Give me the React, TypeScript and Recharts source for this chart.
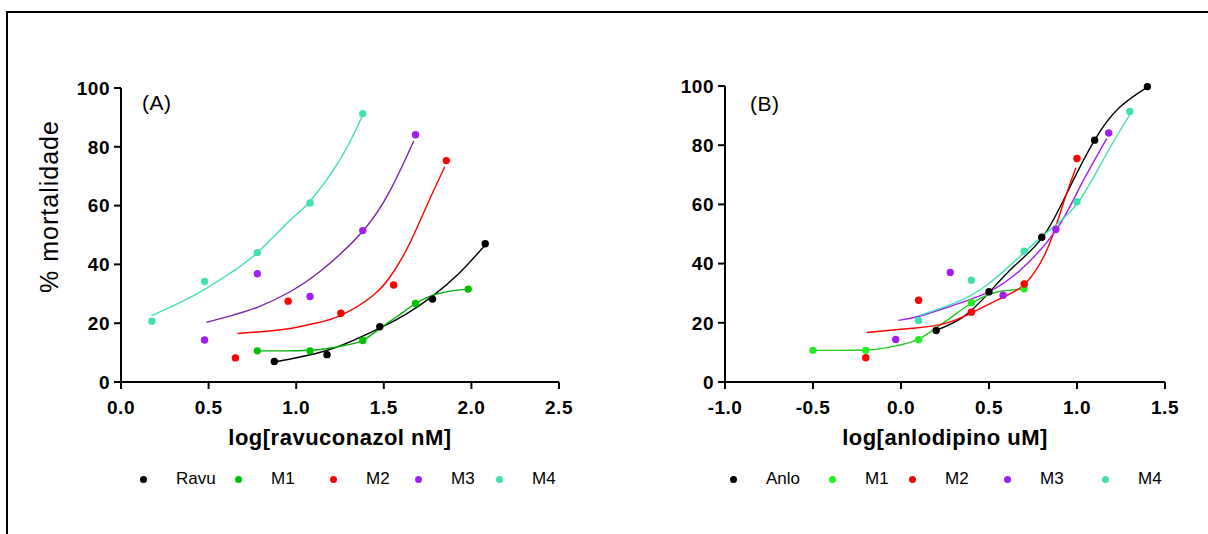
import React from "react";
import { ComposedChart, Scatter, Line, XAxis, YAxis, Legend } from "recharts";

const FONT = '"Liberation Sans", Arial, Helvetica, sans-serif';

// ---- panel A: ravuconazol (log nM) ----
const ravuX = [0.875, 1.176, 1.477, 1.778, 2.079];
const ravuY = [7, 9.3, 18.8, 28.2, 47];
const ravuFitX = [0.875, 1.022, 1.174, 1.32, 1.474, 1.63, 1.778, 1.93, 2.078];
const ravuFitY = [6.8, 8.5, 10.7, 14, 18.2, 23.2, 29.2, 37, 46.5];

const a1X = [0.778, 1.079, 1.38, 1.681, 1.982];
const a1Y = [10.6, 10.6, 14.1, 26.7, 31.6];
const a1FitX = [0.778, 0.93, 1.079, 1.18, 1.28, 1.378, 1.46, 1.535, 1.61, 1.68, 1.781, 1.88, 1.98];
const a1FitY = [10.6, 10.6, 10.8, 11.4, 12.5, 14.1, 17.4, 20.6, 23.7, 26.7, 29.5, 30.9, 31.6];

const a2X = [0.653, 0.954, 1.255, 1.556, 1.857];
const a2Y = [8.2, 27.5, 23.4, 33, 75.3];
const a2FitX = [0.665, 0.815, 0.965, 1.11, 1.255, 1.44, 1.556, 1.649, 1.744, 1.848];
const a2FitY = [16.5, 17.2, 18.2, 20, 22.7, 29.5, 37.5, 47.3, 59.8, 73.2];

const a3X = [0.477, 0.778, 1.079, 1.38, 1.681];
const a3Y = [14.3, 36.8, 29.1, 51.5, 84.1];
const a3FitX = [0.487, 0.63, 0.778, 0.965, 1.155, 1.38, 1.535, 1.671];
const a3FitY = [20.3, 22.6, 25.4, 30.7, 38.5, 51.3, 65, 82];

const a4X = [0.176, 0.477, 0.778, 1.079, 1.38];
const a4Y = [20.7, 34.2, 44, 60.9, 91.3];
const a4FitX = [0.176, 0.33, 0.478, 0.63, 0.778, 0.965, 1.079, 1.25, 1.38];
const a4FitY = [22.6, 26.8, 31.5, 37.3, 44, 55, 61.5, 75.6, 90.8];

// ---- panel B: anlodipino (log uM) ----
const anloX = [0.2, 0.5, 0.8, 1.1, 1.4];
const anloY = [17.4, 30.5, 48.9, 81.7, 99.8];
const anloFitX = [0.197, 0.354, 0.5, 0.639, 0.803, 0.941, 1.1, 1.244, 1.404];
const anloFitY = [17.4, 22, 30.2, 38.9, 48.8, 63.6, 81.7, 92.9, 99.8];

const b1X = [-0.5, -0.2, 0.1, 0.4, 0.7];
const b1Y = [10.7, 10.7, 14.3, 26.8, 31.5];
const b1FitX = [-0.5, -0.35, -0.2, -0.063, 0.1, 0.26, 0.4, 0.544, 0.7];
const b1FitY = [10.7, 10.7, 10.8, 11.8, 14.5, 20.8, 26.6, 30.4, 31.4];

const b2X = [-0.2, 0.1, 0.4, 0.7, 1.0];
const b2Y = [8.2, 27.6, 23.6, 33.1, 75.5];
const b2FitX = [-0.195, 0, 0.222, 0.4, 0.581, 0.705, 0.828, 0.922, 0.994];
const b2FitY = [16.7, 17.8, 19.4, 23.3, 28.7, 33.2, 44.5, 60.3, 72.4];

const b3X = [-0.03, 0.28, 0.58, 0.88, 1.18];
const b3Y = [14.4, 37, 29.3, 51.5, 84.1];
const b3FitX = [-0.015, 0.108, 0.297, 0.487, 0.676, 0.881, 1.017, 1.169];
const b3FitY = [20.8, 22.3, 25.9, 30.1, 37.7, 51.3, 65.9, 82.2];

const b4X = [0.1, 0.4, 0.7, 1.0, 1.3];
const b4Y = [20.8, 34.4, 44.2, 60.9, 91.4];
const b4FitX = [0.108, 0.297, 0.487, 0.705, 0.866, 1.01, 1.169, 1.305];
const b4FitY = [22.5, 26.5, 32.7, 44, 52.4, 61, 77.2, 90.8];

const yTicks = [0, 20, 40, 60, 80, 100];
const xTicksA = [0, 0.5, 1, 1.5, 2, 2.5];
const xTicksB = [-1, -0.5, 0, 0.5, 1, 1.5];
const namesA = ["Ravu", "M1", "M2", "M3", "M4"];
const namesB = ["Anlo", "M1", "M2", "M3", "M4"];

const pts = (xs: number[], ys: number[]) => xs.map((x, i) => ({ x, y: ys[i] }));

// curve: "natural" for the rising fits, "monotone" for the flat-topped sigmoid ones
const seriesA = [
  { name: "Ravu", color: "#000000", line: "#000000", curve: "natural", points: pts(ravuX, ravuY), fit: pts(ravuFitX, ravuFitY) },
  { name: "M1", color: "#00C000", line: "#00B000", curve: "monotone", points: pts(a1X, a1Y), fit: pts(a1FitX, a1FitY) },
  { name: "M2", color: "#FF0000", line: "#FF0000", curve: "natural", points: pts(a2X, a2Y), fit: pts(a2FitX, a2FitY) },
  { name: "M3", color: "#A020F0", line: "#7A22A8", curve: "natural", points: pts(a3X, a3Y), fit: pts(a3FitX, a3FitY) },
  { name: "M4", color: "#40E0B0", line: "#40E0B0", curve: "natural", points: pts(a4X, a4Y), fit: pts(a4FitX, a4FitY) },
];

const seriesB = [
  { name: "Anlo", color: "#000000", line: "#000000", curve: "natural", points: pts(anloX, anloY), fit: pts(anloFitX, anloFitY) },
  { name: "M1", color: "#22EE22", line: "#22CC22", curve: "monotone", points: pts(b1X, b1Y), fit: pts(b1FitX, b1FitY) },
  { name: "M2", color: "#FF0000", line: "#FF0000", curve: "natural", points: pts(b2X, b2Y), fit: pts(b2FitX, b2FitY) },
  { name: "M3", color: "#A020F0", line: "#A020F0", curve: "natural", points: pts(b3X, b3Y), fit: pts(b3FitX, b3FitY) },
  { name: "M4", color: "#40E0B0", line: "#40E0B0", curve: "natural", points: pts(b4X, b4Y), fit: pts(b4FitX, b4FitY) },
];

// legend dot centres, relative to each panel's left edge
const legendPosA = [143, 238, 333, 418, 499];
const legendPosB = [129, 228, 308, 403, 501];

function LegendRow({ names, colors, xs }: { names: string[]; colors: string[]; xs: number[] }) {
  return (
    <div style={{ position: "relative", width: "100%", height: 20, fontFamily: FONT, fontSize: 17, color: "#000" }}>
      {names.map((n, i) => (
        <React.Fragment key={n}>
          <span
            style={{
              position: "absolute",
              left: xs[i] - 3.5,
              top: 6.5,
              width: 7,
              height: 7,
              borderRadius: "50%",
              background: colors[i],
            }}
          />
          <span style={{ position: "absolute", left: xs[i] + 33, top: 0, lineHeight: "20px", whiteSpace: "nowrap" }}>
            {n}
          </span>
        </React.Fragment>
      ))}
    </div>
  );
}

interface PanelProps {
  left: number;
  width: number;
  top: number;
  marginRight: number;
  xDomain: [number, number];
  xTicks: number[];
  xLabel: string;
  yLabel?: string;
  series: typeof seriesA;
  names: string[];
  legendPos: number[];
}

function Panel({ left, width, top, marginRight, xDomain, xTicks, xLabel, yLabel, series, names, legendPos }: PanelProps) {
  const axisStroke = { stroke: "#000", strokeWidth: 2 };
  return (
    <div style={{ position: "absolute", left, top: 0 }}>
      <ComposedChart width={width} height={534} margin={{ top, right: marginRight, bottom: 0, left: 61 }}>
        <XAxis
          type="number"
          dataKey="x"
          domain={xDomain}
          ticks={xTicks}
          tickFormatter={(v: number) => v.toFixed(1)}
          height={534 - 382}
          tickSize={7}
          tickMargin={12}
          axisLine={axisStroke}
          tickLine={axisStroke}
          tick={{ fill: "#000", fontSize: 19, fontWeight: 700, fontFamily: FONT, letterSpacing: 0.5 }}
          label={{
            value: xLabel,
            position: "insideTop",
            offset: 47,
            fill: "#000",
            fontSize: 22,
            fontWeight: 700,
            fontFamily: FONT,
            letterSpacing: 0.5,
          }}
        />
        <YAxis
          type="number"
          dataKey="y"
          domain={[0, 100]}
          ticks={yTicks}
          width={60}
          tickSize={7}
          tickMargin={4}
          axisLine={axisStroke}
          tickLine={axisStroke}
          tick={{ fill: "#000", fontSize: 19, fontWeight: 700, fontFamily: FONT, letterSpacing: 0.5 }}
          label={
            yLabel
              ? {
                  content: (p: any) => {
                    const vb = p.viewBox;
                    const cx = vb.x - 12;
                    const cy = vb.y + vb.height / 2 - 28.5;
                    return (
                      <text
                        x={cx}
                        y={cy}
                        transform={`rotate(-90 ${cx} ${cy})`}
                        textAnchor="middle"
                        dominantBaseline="central"
                        fontSize={25}
                        fontFamily={FONT}
                        letterSpacing={1}
                        fill="#000"
                      >
                        {yLabel}
                      </text>
                    );
                  },
                }
              : undefined
          }
        />
        {series.map((s) => (
          <Line
            key={s.name + "-fit"}
            data={s.fit}
            dataKey="y"
            type={s.curve as any}
            stroke={s.line}
            strokeWidth={1.4}
            dot={false}
            activeDot={false}
            legendType="none"
            isAnimationActive={false}
          />
        ))}
        {series.map((s) => (
          <Scatter
            key={s.name}
            name={s.name}
            data={s.points}
            dataKey="y"
            fill={s.color}
            shape={(p: any) => <circle cx={p.cx} cy={p.cy} r={3.7} fill={s.color} />}
            isAnimationActive={false}
          />
        ))}
        <Legend
          verticalAlign="middle"
          wrapperStyle={{ top: 469, left: 0, width, height: 20 }}
          content={() => <LegendRow names={names} colors={series.map((s) => s.color)} xs={legendPos} />}
        />
      </ComposedChart>
    </div>
  );
}

export default function App() {
  return (
    <div
      style={{
        position: "fixed",
        left: 0,
        top: 0,
        width: 1208,
        height: 534,
        overflow: "hidden",
        background: "#fff",
        fontFamily: FONT,
      }}
    >
      <div
        style={{
          position: "absolute",
          left: 6,
          top: 11,
          width: 1300,
          height: 700,
          borderTop: "2px solid #000",
          borderLeft: "2px solid #000",
        }}
      />
      <Panel
        left={0}
        width={600}
        top={88}
        marginRight={41}
        xDomain={[0, 2.5]}
        xTicks={xTicksA}
        xLabel="log[ravuconazol nM]"
        yLabel="% mortalidade"
        series={seriesA}
        names={namesA}
        legendPos={legendPosA}
      />
      <Panel
        left={604}
        width={604}
        top={86}
        marginRight={43}
        xDomain={[-1, 1.5]}
        xTicks={xTicksB}
        xLabel="log[anlodipino uM]"
        series={seriesB}
        names={namesB}
        legendPos={legendPosB}
      />
      <div style={{ position: "absolute", left: 142, top: 91, fontSize: 21, lineHeight: "24px", letterSpacing: 0.5 }}>
        (A)
      </div>
      <div style={{ position: "absolute", left: 750, top: 92, fontSize: 21, lineHeight: "24px", letterSpacing: 0.5 }}>
        (B)
      </div>
    </div>
  );
}
